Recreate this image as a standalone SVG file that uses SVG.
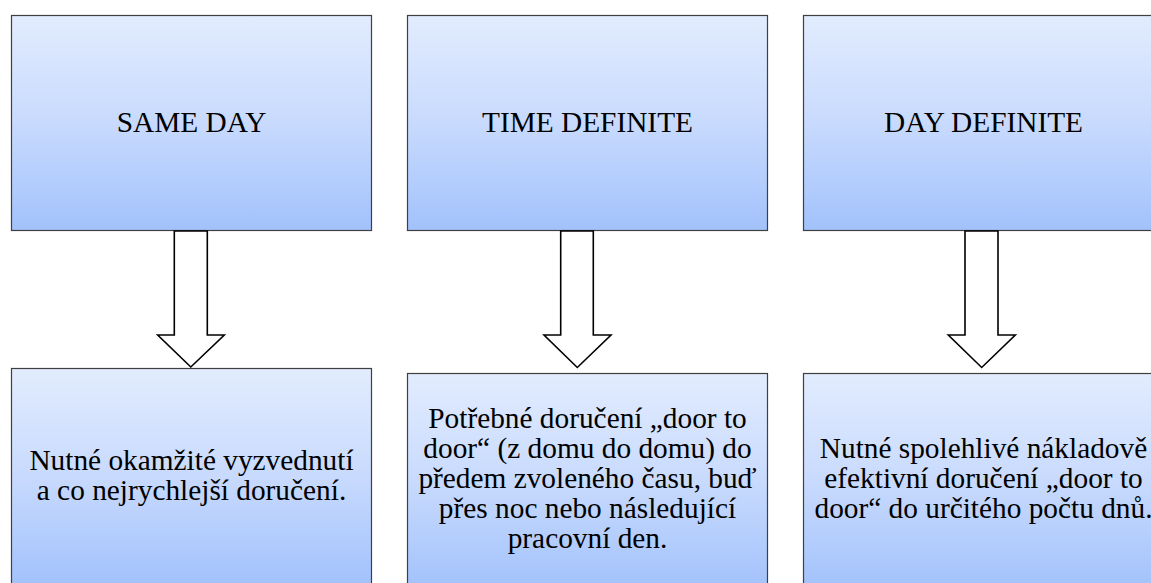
<svg xmlns="http://www.w3.org/2000/svg" width="1151" height="583" viewBox="0 0 1151 583">
<style>
.box{fill:url(#g);stroke:#404040;stroke-width:1.2}
.t{font-size:29.33px;fill:#000;text-anchor:middle}
.arr{fill:#fff;stroke:#000;stroke-width:1.6;stroke-linejoin:miter}
</style>
<defs>
<linearGradient id="g" x1="0" y1="0" x2="0" y2="1">
<stop offset="0" stop-color="#E2ECFE"/>
<stop offset="0.5" stop-color="#C8DAFD"/>
<stop offset="1" stop-color="#A2C2FC"/>
</linearGradient>
</defs>
<g font-family="'Liberation Serif', Tinos, 'Times New Roman', serif">
<g id="n1">
<rect class="box" x="11.5" y="15.5" width="360" height="215"/>
<text class="t" x="191.5" y="132">SAME DAY</text>
</g>
<g id="n2">
<rect class="box" x="407.5" y="15.5" width="360" height="215"/>
<text class="t" x="587.5" y="132">TIME DEFINITE</text>
</g>
<g id="n3">
<rect class="box" x="803.5" y="15.5" width="360" height="215"/>
<text class="t" x="983.5" y="132">DAY DEFINITE</text>
</g>
<g id="n4">
<rect class="box" x="11.5" y="368.5" width="360" height="216"/>
<text class="t" x="191.5" y="470">Nutné okamžité vyzvednutí</text>
<text class="t" x="191.5" y="499.5">a co nejrychlejší doručení.</text>
</g>
<g id="n5">
<rect class="box" x="407.5" y="373.5" width="360" height="216"/>
<text class="t" x="587.5" y="428.3">Potřebné doručení „door to</text>
<text class="t" x="587.5" y="458.3">door“ (z domu do domu) do</text>
<text class="t" x="587.5" y="488.3">předem zvoleného času, buď</text>
<text class="t" x="587.5" y="518.3">přes noc nebo následující</text>
<text class="t" x="587.5" y="548.3">pracovní den.</text>
</g>
<g id="n6">
<rect class="box" x="803.5" y="373.5" width="360" height="216"/>
<text class="t" x="983.5" y="458.3">Nutné spolehlivé nákladově</text>
<text class="t" x="983.5" y="488.3">efektivní doručení „door to</text>
<text class="t" x="983.5" y="518.3">door“ do určitého počtu dnů.</text>
</g>
</g>
<g id="connectors">
<polygon class="arr" points="174.3,231 207.3,231 207.3,335 224.3,335 190.8,367 157.7,335 174.3,335"/>
<polygon class="arr" points="560.7,231 593.3,231 593.3,335 611,335 577.3,367.5 544,335 560.7,335"/>
<polygon class="arr" points="965,231 998,231 998,335 1015.3,335 981.7,367.5 948.3,335 965,335"/>
</g>
</svg>
